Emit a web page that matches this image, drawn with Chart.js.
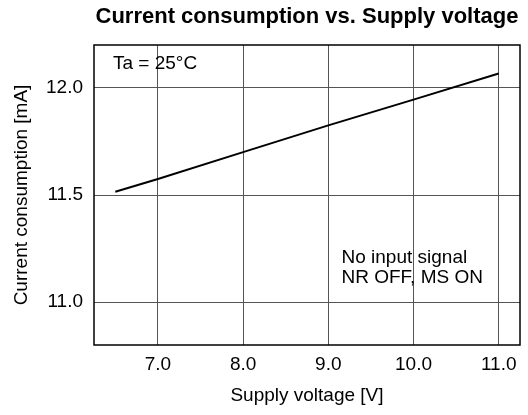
<!DOCTYPE html>
<html lang="en">
  <head>
    <meta charset="UTF-8" />
    <title>Current consumption vs. Supply voltage</title>
    <script src="https://cdn.jsdelivr.net/npm/chart.js@4.4.0/dist/chart.umd.min.js"></script>
    <style>
      html, body { margin: 0; padding: 0; background: #fff; }
      #wrap { width: 528px; height: 415px; }
    </style>
  </head>
  <body>
    <div id="wrap"><canvas id="myChart" width="528" height="415"></canvas></div>

    <script>
      // values
      const voltage = [6.5, 7.0, 8.0, 9.0, 10.0, 11.0];       // Supply voltage [V]
      const current = [11.515, 11.575, 11.70, 11.825, 11.945, 12.067]; // Current consumption [mA]
      const xTicks = [7, 8, 9, 10, 11];
      const yTicks = [11.0, 11.5, 12.0];
      const noteTop = 'Ta = 25°C';
      const noteBottom = ['No input signal', 'NR OFF, MS ON'];

      const FONT = "'Liberation Sans', Arial, sans-serif";

      // frame around the plot + text notes
      const framePlugin = {
        id: 'frame',
        afterDraw(chart) {
          const { ctx, chartArea: a } = chart;
          ctx.save();
          ctx.strokeStyle = '#000';
          ctx.lineWidth = 1.5;
          ctx.strokeRect(a.left, a.top, a.right - a.left, a.bottom - a.top);
          ctx.fillStyle = '#000';
          ctx.font = '19px ' + FONT;
          ctx.textBaseline = 'alphabetic';
          ctx.textAlign = 'left';
          ctx.fillText(noteTop, a.left + 19, a.top + 23.5);
          ctx.fillText(noteBottom[0], a.left + 247.5, a.top + 218);
          ctx.fillText(noteBottom[1], a.left + 247.5, a.top + 238);
          ctx.restore();
        }
      };

      const ctx = document.getElementById('myChart').getContext('2d');
      const myChart = new Chart(ctx, {
        type: 'line',
        data: {
          datasets: [{
            data: voltage.map((v, i) => ({ x: v, y: current[i] })),
            borderColor: '#000',
            borderWidth: 2,
            pointRadius: 0,
            fill: false,
            tension: 0
          }]
        },
        options: {
          responsive: false,
          animation: false,
          layout: { padding: { right: 8, left: 0, top: 0, bottom: 0 } },
          plugins: {
            legend: { display: false },
            tooltip: { enabled: false },
            title: {
              display: true,
              fullSize: false,
              text: 'Current consumption vs. Supply voltage',
              color: '#000',
              font: { family: FONT, size: 22, weight: 'bold' },
              padding: { top: 4, bottom: 14.6 }
            }
          },
          scales: {
            x: {
              type: 'linear',
              min: 6.25,
              max: 11.25,
              afterBuildTicks: s => { s.ticks = xTicks.map(v => ({ value: v })); },
              afterFit: s => { s.height = 70; },
              ticks: {
                color: '#000',
                padding: 8,
                font: { family: FONT, size: 19 },
                callback: v => v.toFixed(1)
              },
              grid: { color: '#555', lineWidth: 1, drawTicks: false },
              border: { display: false },
              title: {
                display: true,
                text: 'Supply voltage [V]',
                color: '#000',
                font: { family: FONT, size: 19 },
                padding: { top: 0, bottom: 8 }
              }
            },
            y: {
              type: 'linear',
              min: 10.8,
              max: 12.2,
              afterBuildTicks: s => { s.ticks = yTicks.map(v => ({ value: v })); },
              afterFit: s => { s.width = 94; },
              ticks: {
                color: '#000',
                padding: 11,
                font: { family: FONT, size: 19 },
                callback: v => v.toFixed(1)
              },
              grid: { color: '#555', lineWidth: 1, drawTicks: false },
              border: { display: false },
              title: {
                display: true,
                text: 'Current consumption [mA]',
                color: '#000',
                font: { family: FONT, size: 19 },
                padding: { top: 10, bottom: 0 }
              }
            }
          }
        },
        plugins: [framePlugin]
      });
    </script>
  </body>
</html>
